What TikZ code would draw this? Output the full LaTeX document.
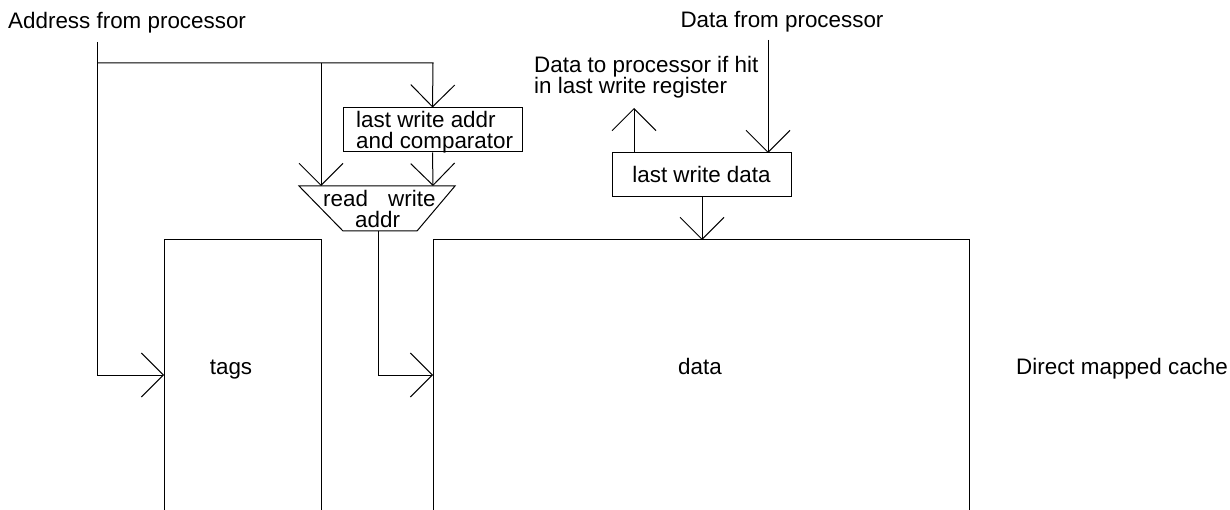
\documentclass[tikz,border=0pt]{standalone}
\usepackage{fontspec}
\setmainfont{Liberation Sans}
\usetikzlibrary{arrows.meta}
\begin{document}
\begin{tikzpicture}[x=1pt,y=-1pt,
  wire/.style={line width=1pt, draw=black},
  arr/.style={wire, -{Straight Barb[length=22pt,width=44pt,line width=1pt]}},
  lbl/.style={inner sep=0pt, anchor=base west, font=\fontsize{22.4}{22.4}\selectfont},
  blk/.style={draw=black, line width=1pt, inner sep=0pt}]
\useasboundingbox (0,0) rectangle (1230,510);

% labels
\node[lbl] (addrin) at (8,29) {Address from processor};
\node[lbl, anchor=base] (datain) at (782,28) {Data from processor};
\node[lbl] (dout1) at (534,73) {Data to processor if hit};
\node[lbl] (dout2) at (534,94) {in last write register};
\node[lbl] (dmc) at (1016,374) {Direct mapped cache};

% last write addr and comparator box
\node[blk, minimum width=179pt, minimum height=44pt] (lwa) at (432.5,130) {};
\node[lbl] (lwa1) at (356,128) {last write addr};
\node[lbl] (lwa2) at (356,149) {and comparator};

% last write data box
\node[blk, minimum width=179pt, minimum height=44pt] (lwd) at (701.5,175) {};
\node[lbl, anchor=base] (lwdt) at (701.5,183) {last write data};

% mux
\coordinate (mTL) at (299,186);
\coordinate (mTR) at (455,186);
\coordinate (mBR) at (417,231);
\coordinate (mBL) at (343,231);
\draw[wire] (mTL) -- (mTR) -- (mBR) -- (mBL) -- cycle;
\node[lbl] (mread) at (323,207) {read};
\node[lbl] (mwrite) at (388,207) {write};
\node[lbl] (maddr) at (355,228) {addr};
\coordinate (muxR) at (321,186);
\coordinate (muxW) at (433,186);
\coordinate (muxO) at (378,231);

% tags and data arrays (open at bottom)
\draw[wire] (164,512) -- (164,240) -- (321,240) -- (321,512);
\draw[wire] (433,512) -- (433,240) -- (969,240) -- (969,512);
\node[lbl, anchor=base] (tagsl) at (231,374) {tags};
\node[lbl, anchor=base] (datal) at (700,374) {data};
\coordinate (tagsIn) at (164,375);
\coordinate (dataIn) at (433,375);
\coordinate (dataTop) at (702,240);

% address wiring
\coordinate (aTop) at (97,42);
\coordinate (aJ) at (97,63);
\coordinate (aR) at (321,63);
\coordinate (aW) at (433,63);
\draw[arr] (aTop) -- (97,375) -- (tagsIn);
\draw[arr] (aJ) -- (aW) -- (lwa.north);
\draw[arr] (aR) -- (muxR);
\draw[arr] (lwa.south) -- (muxW);
\draw[arr] (muxO) -- (378,375) -- (dataIn);

% data wiring
\coordinate (dTop) at (768,40);
\coordinate (lwdIn) at (768,153);
\coordinate (lwdOut) at (634,153);
\coordinate (hitOut) at (634,108);
\draw[arr] (dTop) -- (lwdIn);
\draw[arr] (lwdOut) -- (hitOut);
\draw[arr] (lwd.south -| dataTop) -- (dataTop);
\end{tikzpicture}
\end{document}
